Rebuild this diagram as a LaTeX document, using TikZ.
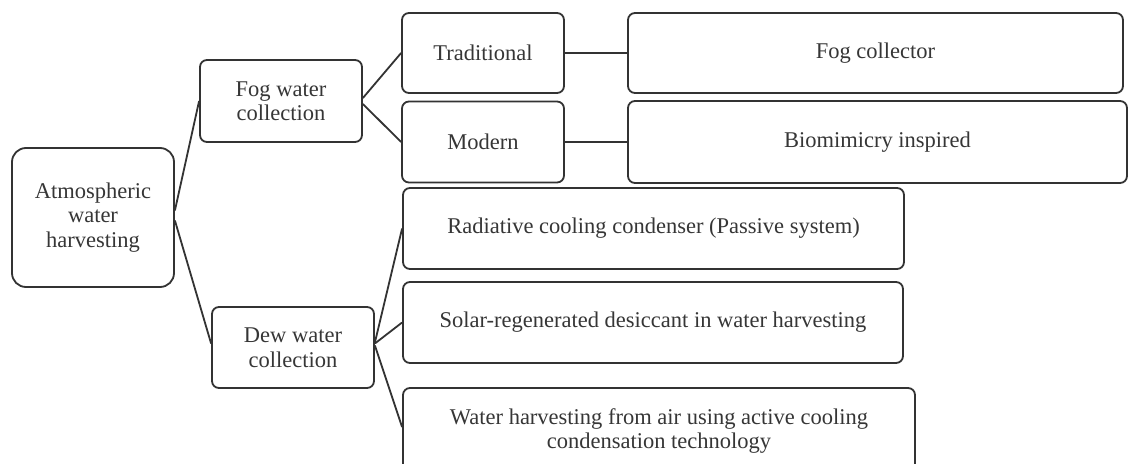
\documentclass[tikz,border=0pt]{standalone}
\usepackage{fontspec}
\setmainfont{Liberation Serif}
\definecolor{ink}{HTML}{333333}
\definecolor{txt}{HTML}{363636}
\begin{document}
\begin{tikzpicture}[x=1pt,y=-1pt,
  box/.style={draw=ink, line width=1.8pt, rounded corners=7pt, inner sep=0pt,
    align=center, text=txt, font=\fontsize{22.5}{24.5}\selectfont},
  link/.style={draw=ink, line width=1.8pt}]
\useasboundingbox (0,0) rectangle (1129,463);
\fill[white] (0,0) rectangle (1129,463);
\begin{scope}
\clip (0,0) rectangle (1129,463);
\node[box, rounded corners=14pt, minimum width=162pt, minimum height=139pt] (root) at (93,217.5) {Atmospheric\\water\\harvesting};
\node[box, minimum width=162pt, minimum height=82pt] (fog) at (281,101) {Fog water\\collection};
\node[box, minimum width=162pt, minimum height=81pt] (dew) at (293,347.5) {Dew water\\collection};
\node[box, minimum width=162pt, minimum height=80pt] (trad) at (483,53) {Traditional};
\node[box, minimum width=162pt, minimum height=81pt] (modern) at (483,142) {Modern};
\node[box, minimum width=495pt, minimum height=80pt] (fogcol) at (875.5,53) {Fog collector};
\node[box, minimum width=499pt, minimum height=82pt] (bio) at (877.5,142) {Biomimicry inspired};
\node[box, minimum width=501pt, minimum height=81pt] (rad) at (653.5,228.5) {Radiative cooling condenser (Passive system)};
\node[box, minimum width=500pt, minimum height=81pt] (solar) at (653,322.5) {Solar-regenerated desiccant in water harvesting};
\node[box, minimum width=512pt, minimum height=86pt] (water) at (659,431) {Water harvesting from air using active cooling\\condensation technology};
\draw[link] ([yshift=7pt]root.east) -- (fog.west);
\draw[link] ([yshift=-3pt]root.east) -- ([yshift=4pt]dew.west);
\draw[link] ([yshift=3pt]fog.east) -- (trad.west);
\draw[link] ([yshift=-3pt]fog.east) -- (modern.west);
\draw[link] (trad.east) -- (fogcol.west);
\draw[link] (modern.east) -- (bio.west);
\draw[link] ([yshift=5pt]dew.east) -- (rad.west);
\draw[link] ([yshift=4pt]dew.east) -- (solar.west);
\draw[link] ([yshift=2pt]dew.east) -- ([yshift=4pt]water.west);
\end{scope}
\end{tikzpicture}
\end{document}
